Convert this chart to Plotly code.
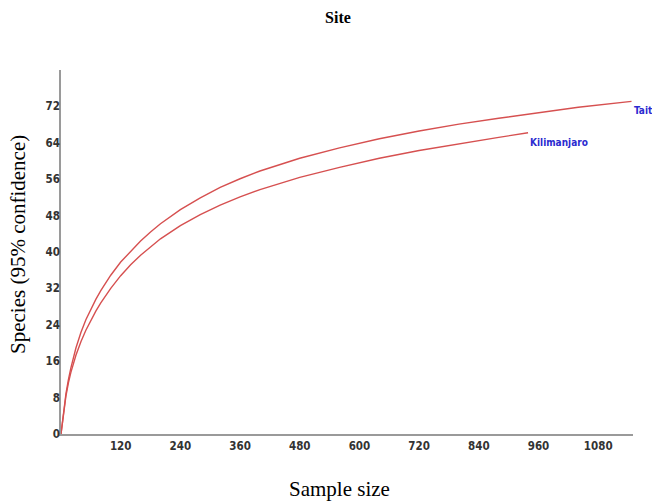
import plotly.graph_objects as go

# Rarefaction curves: sample size vs expected species count per site
tait_n = [0, 5, 10, 15, 20, 30, 40, 50, 60, 70, 80, 100, 120, 140, 160, 180, 200, 240, 280,
          320, 360, 400, 480, 560, 640, 720, 800, 880, 960, 1040, 1147]
tait_s = [0, 5.0, 8.9, 12.0, 14.6, 18.9, 22.3, 25.1, 27.5, 29.6, 31.5, 34.9, 37.8, 40.2, 42.4, 44.4, 46.2, 49.3, 51.9,
          54.2, 56.1, 57.8, 60.6, 62.9, 64.9, 66.6, 68.1, 69.4, 70.6, 71.8, 73.1]

kili_n = [0, 5, 10, 15, 20, 30, 40, 50, 60, 70, 80, 100, 120, 140, 160, 180, 200, 240, 280,
          320, 360, 400, 480, 560, 640, 720, 800, 880, 939]
kili_s = [0, 4.7, 8.4, 11.3, 13.6, 17.3, 20.3, 22.8, 25.0, 27.0, 28.8, 32.0, 34.8, 37.2, 39.3, 41.2, 42.9, 45.8, 48.2,
          50.3, 52.1, 53.7, 56.4, 58.6, 60.6, 62.3, 63.8, 65.2, 66.2]

site_names = ["Tait", "Kilimanjaro"]

x_ticks = [120, 240, 360, 480, 600, 720, 840, 960, 1080]
y_ticks = [0, 8, 16, 24, 32, 40, 48, 56, 64, 72]

curve_color = "#d65050"
label_color = "#2b2bd0"
narrow = "Liberation Sans Narrow, DejaVu Sans Condensed, Liberation Sans, Arial, sans-serif"
serif = "Liberation Serif, Times New Roman, serif"
tick_font = dict(family=narrow, size=11.5, color="#333333", weight="bold")

fig = go.Figure()
for name, xs, ys in [(site_names[0], tait_n, tait_s), (site_names[1], kili_n, kili_s)]:
    fig.add_trace(go.Scatter(
        x=xs, y=ys, mode="lines", name=name,
        line=dict(color=curve_color, width=1.4, shape="linear"),
        showlegend=False, cliponaxis=False,
    ))
    fig.add_annotation(
        x=xs[-1], y=ys[-1], text=name, showarrow=False,
        xanchor="left", yanchor="top", xshift=0, yshift=-2,
        font=dict(family=narrow, size=10, color=label_color, weight="bold"),
    )

# Axis titles placed as annotations in paper coordinates
fig.add_annotation(
    text="Sample size", xref="paper", yref="paper",
    x=(339 - 61) / (633 - 61), y=-(489 - 434) / (434 - 70),
    xanchor="center", yanchor="middle", showarrow=False,
    font=dict(family=serif, size=21, color="black"),
)
fig.add_annotation(
    text="Species (95% confidence)", xref="paper", yref="paper",
    x=-(61 - 18) / (633 - 61), y=(434 - 245) / (434 - 70),
    xanchor="center", yanchor="middle", textangle=-90, showarrow=False,
    font=dict(family=serif, size=21, color="black"),
)

fig.update_layout(
    width=652, height=502,
    margin=dict(l=61, r=19, t=70, b=68),
    paper_bgcolor="white", plot_bgcolor="white",
    title=dict(text="<b>Site</b>", x=338 / 652, xanchor="center", y=1 - 17 / 502, yanchor="middle",
               font=dict(family=serif, size=16, color="black")),
    xaxis=dict(
        range=[0, 1150], tickvals=x_ticks, ticktext=[str(v) for v in x_ticks],
        showgrid=False, zeroline=False, showline=True, linecolor="#9a9a9a", linewidth=1.5,
        ticks="", tickfont=tick_font,
    ),
    yaxis=dict(
        range=[0, 80], tickvals=y_ticks, ticktext=[str(v) for v in y_ticks],
        showgrid=False, zeroline=False, showline=True, linecolor="#9a9a9a", linewidth=1.5,
        ticks="", tickfont=tick_font, ticklabelstandoff=-3,
    ),
)

fig.write_html("out.html")
